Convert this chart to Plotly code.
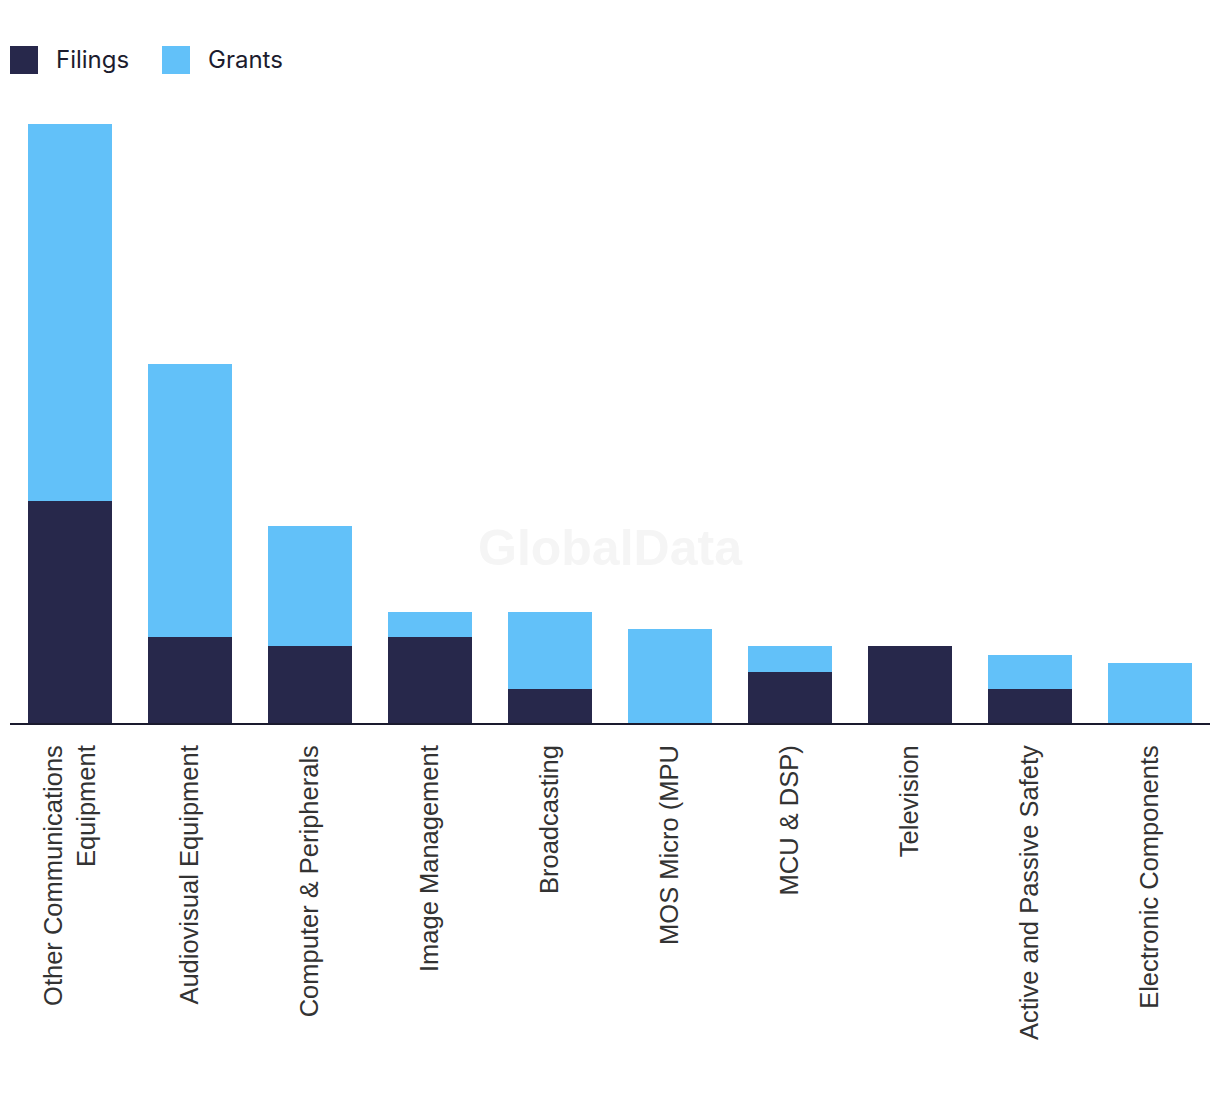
import plotly.graph_objects as go

categories = [
    "Other Communications<br>Equipment",
    "Audiovisual Equipment",
    "Computer & Peripherals",
    "Image Management",
    "Broadcasting",
    "MOS Micro (MPU",
    "MCU & DSP)",
    "Television",
    "Active and Passive Safety",
    "Electronic Components",
]
filings = [26, 10, 9, 10, 4, 0, 6, 9, 4, 0]
grants = [44, 32, 14, 3, 9, 11, 3, 0, 4, 7]

FIL_COLOR = "#27284B"
GRA_COLOR = "#62C1F9"

# page body adds an 8px offset; figure coords = screen coords - 8
OFF = 8
W, H = 1204, 1078
L, R, T, B = 2, 2, 116, 363


def px_x(x):
    return (x - OFF - L) / (W - L - R)


def px_y(y):
    return (H - B - (y - OFF)) / (H - B - T)


fig = go.Figure()
fig.add_trace(go.Bar(x=categories, y=filings, name="Filings", marker_color=FIL_COLOR,
                     marker_line_width=0, showlegend=False))
fig.add_trace(go.Bar(x=categories, y=grants, name="Grants", marker_color=GRA_COLOR,
                     marker_line_width=0, showlegend=False))

shapes = []
annotations = []
for (x0, label, color) in [(10, "Filings", FIL_COLOR), (162, "Grants", GRA_COLOR)]:
    shapes.append(dict(type="rect", xref="paper", yref="paper",
                       x0=px_x(x0), x1=px_x(x0 + 28), y0=px_y(74), y1=px_y(46),
                       fillcolor=color, line_width=0))
    annotations.append(dict(text=label, xref="paper", yref="paper",
                            x=px_x(x0 + 44), y=px_y(59), xanchor="left", yanchor="middle",
                            showarrow=False,
                            font=dict(family="Inter, Roboto, sans-serif", size=24, color="#1C1C2E")))

annotations.append(dict(text="<b>GlobalData</b>", xref="paper", yref="paper",
                        x=px_x(610), y=px_y(548), xanchor="center", yanchor="middle",
                        showarrow=False,
                        font=dict(family="Liberation Sans, Arial, sans-serif", size=50, color="#F5F5F5")))

fig.update_layout(
    width=W, height=H,
    margin=dict(l=L, r=R, t=T, b=B, pad=0),
    barmode="stack",
    bargap=0.3,
    plot_bgcolor="white",
    paper_bgcolor="white",
    showlegend=False,
    shapes=shapes,
    annotations=annotations,
    xaxis=dict(
        tickangle=-90,
        tickfont=dict(family="Liberation Sans, Arial, sans-serif", size=25.5, color="#333333"),
        showline=True, linecolor="#1A1A2E", linewidth=2,
        showgrid=False, zeroline=False,
        ticks="", ticklabelstandoff=10,
        fixedrange=True,
    ),
    yaxis=dict(
        range=[0, 70], showticklabels=False, showgrid=False, zeroline=False,
        showline=False, ticks="", fixedrange=True,
    ),
)

fig.write_html("out.html")
